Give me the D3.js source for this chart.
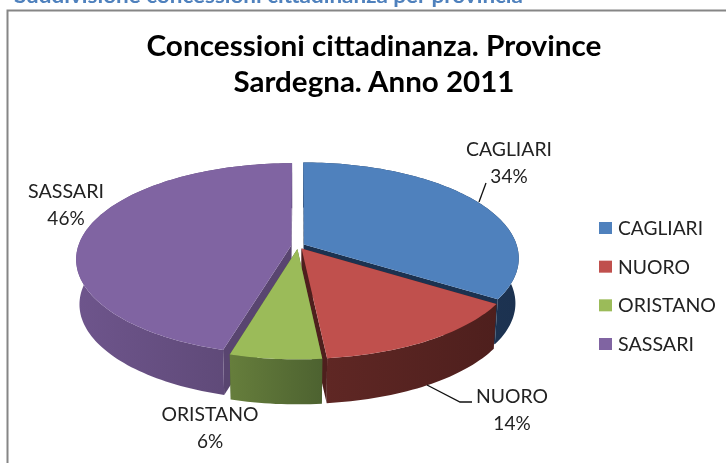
<!DOCTYPE html>
<html>

<head>
  <title>Concessioni cittadinanza</title>
  <style>
    html, body { margin: 0; padding: 0; background: #fff; overflow: hidden; }
    svg { display: block; filter: blur(0.35px); }
    text { font-family: Lato, sans-serif; }
  </style>
</head>

<body>

  <svg id="main" width="726" height="463"></svg>

  <script src="https://cdn.jsdelivr.net/npm/d3@7"></script>
  <script>

    const categories = ['CAGLIARI', 'NUORO', 'ORISTANO', 'SASSARI']
    // slightly finer than the printed labels, they round to 34 / 14 / 6 / 46
    const values = [34.1, 14.3, 6.0, 45.6]
    const titleLines = ['Concessioni cittadinanza. Province', 'Sardegna. Anno 2011']
    const heading = 'Suddivisione concessioni cittadinanza per provincia'

    const topColors = ['#4f81bd', '#c0504d', '#9bbb59', '#8064a2']
    const wallLeft = ['#22395a', '#5f2724', '#667e3c', '#6e558c']
    const wallRight = ['#1c3250', '#4e1f1d', '#4d6230', '#594570']

    const svg = d3.select('#main')
    const color = d3.scaleOrdinal().domain(categories).range(topColors)

    // pie seen in perspective: unit circle -> screen
    const pie3d = { cx: 298, cy: 246, rx: 213, ry: 94, k: 0.14, depth: 45, explode: 0.032 }

    function project(u, v, lower) {
      const w = 1 - pie3d.k * v
      const shrink = lower ? 0.985 : 1
      return [
        pie3d.cx + pie3d.rx * u / w * shrink,
        pie3d.cy + pie3d.ry * v / w + (lower ? pie3d.depth : 0)
      ]
    }

    const path = d3.line()
    const pie = d3.pie().sort(null).value(d => d)
    const arcs = pie(values).map((d, i) => ({ ...d, name: categories[i], i }))

    function unit(a, r, mid) {
      return [
        pie3d.explode * Math.sin(mid) + r * Math.sin(a),
        -pie3d.explode * Math.cos(mid) - r * Math.cos(a)
      ]
    }

    function rim(d, lower) {
      const mid = (d.startAngle + d.endAngle) / 2
      const n = Math.ceil((d.endAngle - d.startAngle) * 40)
      return d3.range(n + 1).map(j => {
        const a = d.startAngle + (d.endAngle - d.startAngle) * j / n
        const p = unit(a, 1, mid)
        return project(p[0], p[1], lower)
      })
    }

    function apex(d, lower) {
      const mid = (d.startAngle + d.endAngle) / 2
      const p = unit(0, 0, mid)
      return project(p[0], p[1], lower)
    }

    const defs = svg.append('defs')
    arcs.forEach(d => {
      const g = defs.append('linearGradient').attr('id', `wall${d.i}`)
      g.append('stop').attr('offset', '0%').attr('stop-color', wallLeft[d.i])
      g.append('stop').attr('offset', '100%').attr('stop-color', wallRight[d.i])
    })

    // heading cut by the top of the picture
    svg.append('text')
      .attr('x', 14)
      .attr('y', 3)
      .attr('font-size', 20)
      .attr('font-weight', 700)
      .attr('fill', '#4f81bd')
      .attr('textLength', 509)
      .attr('lengthAdjust', 'spacingAndGlyphs')
      .text(heading)

    // chart frame, open on the right and at the bottom
    svg.append('path')
      .attr('d', 'M7.5,463V10.5H726')
      .attr('fill', 'none')
      .attr('stroke', '#868686')
      .attr('stroke-width', 2)

    const titleW = [455, 281]
    titleLines.forEach((t, i) => {
      svg.append('text')
        .attr('x', 374)
        .attr('y', 56 + i * 36)
        .attr('text-anchor', 'middle')
        .attr('font-size', 29)
        .attr('font-weight', 700)
        .attr('fill', '#000')
        .attr('textLength', titleW[i])
        .attr('lengthAdjust', 'spacingAndGlyphs')
        .text(t)
    })

    // back slices first, so the nearer ones hide their cut faces
    const slices = svg.append('g')
    const drawOrder = [0, 3, 1, 2]
    drawOrder.map(i => arcs[i]).forEach(d => {
      const g = slices.append('g')
      const top = rim(d, false)
      const low = rim(d, true)
      const a0 = apex(d, false)
      const a1 = apex(d, true)

      // the two cut faces
      ;[[top[0], low[0]], [top[top.length - 1], low[low.length - 1]]].forEach(e => {
        g.append('path')
          .attr('d', path([a0, e[0], e[1], a1]) + 'Z')
          .attr('fill', wallRight[d.i])
      })

      // outer wall
      g.append('path')
        .attr('d', path(top.concat(low.slice().reverse())) + 'Z')
        .attr('fill', `url(#wall${d.i})`)

      // top face
      g.append('path')
        .attr('d', path([a0].concat(top)) + 'Z')
        .attr('fill', color(d.name))
    })

    // leader lines
    const leaders = [
      [[486, 183], [479, 202]],
      [[427, 385], [460, 402], [472, 402]]
    ]
    leaders.forEach(l => {
      svg.append('path')
        .attr('d', path(l))
        .attr('fill', 'none')
        .attr('stroke', '#111')
        .attr('stroke-width', 1.3)
    })

    // data labels
    const fmt = d3.format('.0f')
    const labelPos = [
      { x: 509, y: 156, w: 86 },
      { x: 512, y: 403, w: 72 },
      { x: 210, y: 421, w: 97 },
      { x: 66, y: 198, w: 76 }
    ]
    arcs.forEach(d => {
      const p = labelPos[d.i]
      const t = svg.append('text')
        .attr('text-anchor', 'middle')
        .attr('font-size', 19)
        .attr('fill', '#222')
      t.append('tspan')
        .attr('x', p.x)
        .attr('y', p.y)
        .attr('textLength', p.w)
        .attr('lengthAdjust', 'spacingAndGlyphs')
        .text(d.name)
      t.append('tspan')
        .attr('x', p.x)
        .attr('y', p.y + 27)
        .text(`${fmt(d.data)}%`)
    })

    // legend
    const legendY = d3.scalePoint().domain(categories).range([222, 338])
    const legendW = [85, 72, 98, 76]
    const legend = svg.append('g')
    categories.forEach((c, i) => {
      legend.append('rect')
        .attr('x', 599)
        .attr('y', legendY(c))
        .attr('width', 13)
        .attr('height', 12)
        .attr('fill', color(c))
      legend.append('text')
        .attr('x', 618)
        .attr('y', legendY(c) + 13)
        .attr('font-size', 19)
        .attr('fill', '#222')
        .attr('textLength', legendW[i])
        .attr('lengthAdjust', 'spacingAndGlyphs')
        .text(c)
    })

  </script>
</body>

</html>
